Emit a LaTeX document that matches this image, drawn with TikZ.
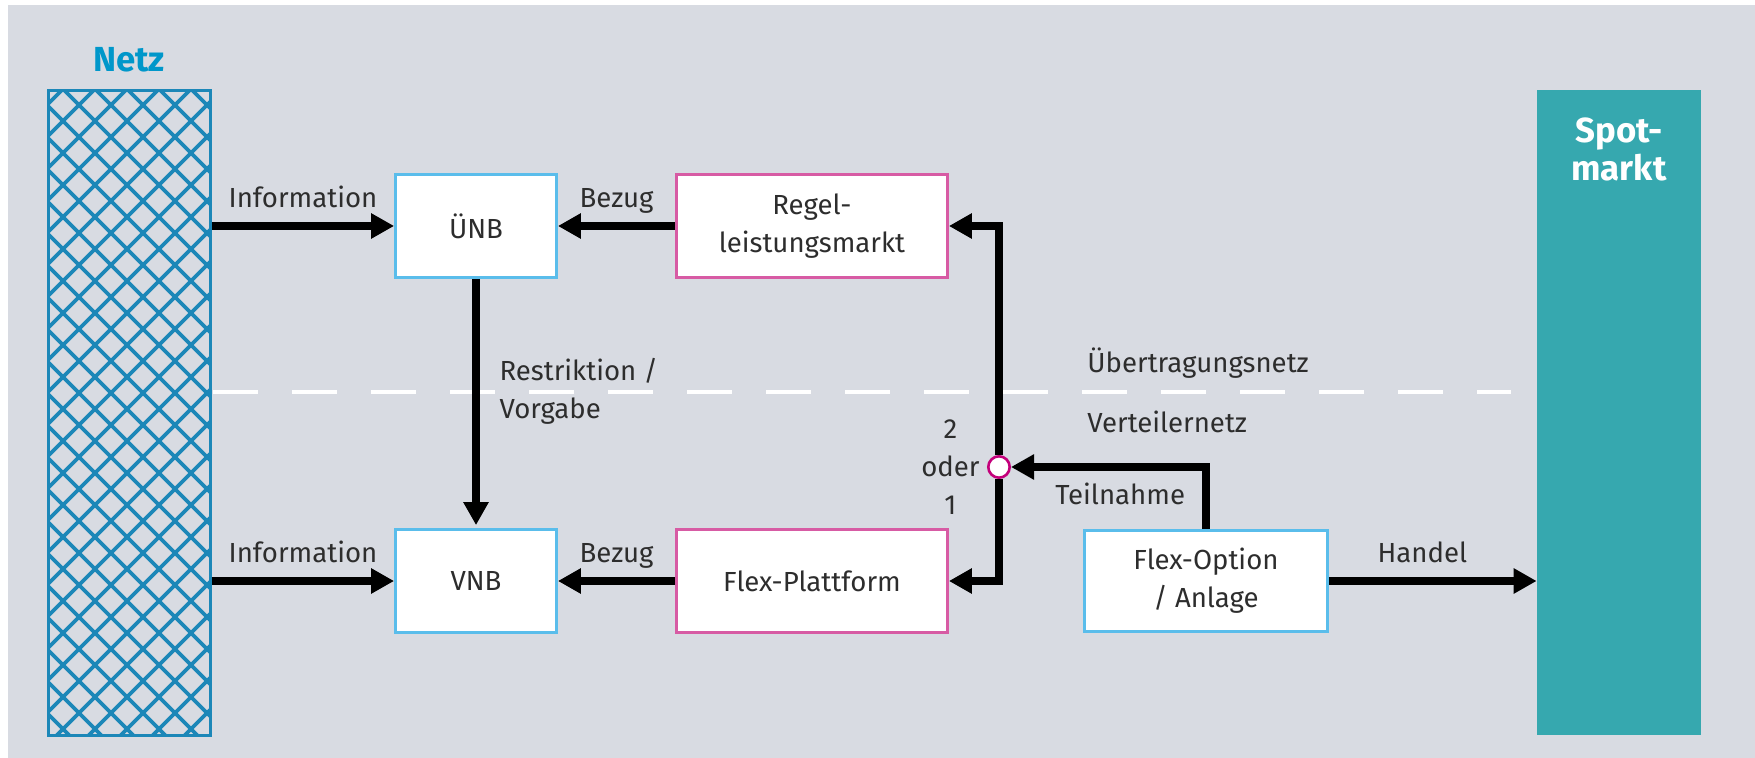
\documentclass[tikz,border=0pt]{standalone}
\usepackage{fontspec}
\setmainfont{Fira Sans}
\usetikzlibrary{arrows.meta,positioning}

\definecolor{flaeche}{HTML}{D8DBE2}
\definecolor{netzblau}{HTML}{1C87B8}
\definecolor{titelblau}{HTML}{0097CA}
\definecolor{akteurblau}{HTML}{5ABDEB}
\definecolor{marktrosa}{HTML}{D75BA4}
\definecolor{knotenrot}{HTML}{C4007B}
\definecolor{spotgruen}{HTML}{36A8AF}
\definecolor{schrift}{HTML}{2D2D2D}

\tikzset{
  akteur/.style={draw=akteurblau, line width=1.6pt, fill=white, text=schrift,
    minimum width=80.3pt, minimum height=51.3pt, align=center},
  markt/.style={akteur, draw=marktrosa, minimum width=135.3pt},
  fluss/.style={line width=3.6pt, -{Triangle[length=11.5pt,width=12pt]}},
  marke/.style={text=schrift, inner sep=0pt, text depth=0pt, align=left},
  titel/.style={font=\bfseries\fontsize{17.4}{19}\selectfont, inner sep=0pt},
}

\begin{document}
\begin{tikzpicture}[x=0.5pt, y=-0.5pt, font=\fontsize{13.8}{19}\selectfont]
  \useasboundingbox (0,0) rectangle (1755,758);
  \fill[flaeche] (8,5) rectangle (1755,758);

  % Trennlinie
  \draw[white, line width=1.8pt, dash pattern=on 22.5pt off 17pt] (213,392) -- (1511,392);
  \node[marke, anchor=base west] (uenetz) at (1087,373) {Übertragungsnetz};
  \node[marke, anchor=base west] (vtnetz) at (1087,433) {Verteilernetz};

  % Netz
  \node[draw=netzblau, line width=1.6pt, minimum width=80.8pt, minimum height=322.3pt] (netz) at (129.5,413) {};
  \begin{scope}
    \clip (netz.south west) rectangle (netz.north east);
    \foreach \i in {-22,...,28} {
      \draw[netzblau, line width=1.8pt] ({63+32*\i},89) -- ++(700,700);
      \draw[netzblau, line width=1.8pt] ({63+32*\i},89) -- ++(-700,700);
    }
  \end{scope}
  \node[titel, text=titelblau, anchor=base] (netztitel) at (129,72) {Netz};

  % Spotmarkt
  \node[fill=spotgruen, minimum width=82pt, minimum height=322.5pt] (spot) at (1619,412.5) {};
  \node[titel, text=white, align=center, anchor=north] (spottitel) at (1619,117) {Spot-\\markt};

  % Akteure und Maerkte
  \node[akteur] (uenb) at (476,226) {ÜNB};
  \node[akteur] (vnb) at (476,581) {VNB};
  \node[markt] (regel) at (812,226) {Regel-\\leistungsmarkt};
  \node[markt] (plattform) at (812,581) {Flex-Plattform};
  \node[akteur, minimum width=121.3pt, minimum height=50.3pt] (option) at (1206,581) {Flex-Option\\/ Anlage};
  \node[circle, draw=knotenrot, line width=1.3pt, fill=white, minimum size=10.7pt, inner sep=0pt] (kreis) at (999,467) {};
  \node[marke, align=center, left=3.5pt of kreis] (auswahl) {2\\oder\\1};

  % Verbindungen
  \draw[fluss] (netz.east |- uenb.west) -- node[marke, above=7.5pt] (info1) {Information} (uenb.west);
  \draw[fluss] (netz.east |- vnb.west) -- node[marke, above=7.5pt] (info2) {Information} (vnb.west);
  \draw[fluss] (regel.west) -- node[marke, above=7.5pt] (bezug1) {Bezug} (uenb.east);
  \draw[fluss] (plattform.west) -- node[marke, above=7.5pt] (bezug2) {Bezug} (vnb.east);
  \draw[fluss, shorten >=1.5pt] (uenb) -- node[marke, right=10pt, pos=0.44] (vorgabe) {Restriktion /\\Vorgabe} (vnb);
  \draw[fluss] (kreis) |- (regel.east);
  \draw[fluss] (kreis) |- (plattform.east);
  \draw[fluss] (option.north) |- node[marke, pos=0.72, anchor=base, yshift=-19pt] (teilnahme) {Teilnahme} (kreis.east);
  \draw[fluss] (option.east) -- node[marke, above=7.5pt, pos=0.45] (handel) {Handel} (option.east -| spot.west);
\end{tikzpicture}
\end{document}
